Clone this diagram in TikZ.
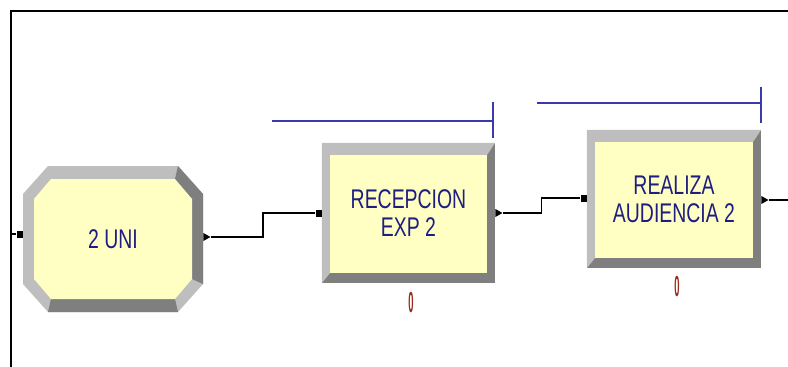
\documentclass[tikz,border=0pt]{standalone}
\usepackage{fontspec}
\usepackage{graphicx}
\usetikzlibrary{positioning, calc, backgrounds, shapes.geometric}
\newfontfamily\arenafont{Liberation Sans}[FakeStretch=0.72]
\definecolor{arenablue}{HTML}{1E1E82}
\definecolor{queueblue}{HTML}{3A3AA8}
\definecolor{bevlight}{HTML}{BEBEBE}
\definecolor{bevdark}{HTML}{7F7F7F}
\definecolor{boxyellow}{HTML}{FFFFC4}
\definecolor{countred}{HTML}{9A2A1A}

% bevelled module frame behind a named node
\newcommand{\bevelbox}[1]{%
  \begin{scope}[on background layer]
    \fill[bevdark] (#1.north west) rectangle (#1.south east);
    \fill[bevlight] (#1.north west) -- (#1.north east) -- ($(#1.north east)+(-8,12)$)
      -- ($(#1.south west)+(8,-10)$) -- (#1.south west) -- cycle;
    \fill[boxyellow] ($(#1.north west)+(8,12)$) rectangle ($(#1.south east)+(-8,-10)$);
  \end{scope}}

\begin{document}
\begin{tikzpicture}[
    x=1pt, y=-1pt,
    modbox/.style={minimum width=174pt, minimum height=140pt, inner sep=0pt, align=center, font=\arenafont\fontsize{27}{28}\selectfont, text=arenablue},
    inport/.style={fill=black, minimum width=6pt, minimum height=7pt, inner sep=0pt},
    outport/.style={isosceles triangle, isosceles triangle stretches, fill=black, minimum width=8pt, minimum height=7pt, inner sep=0pt},
    conn/.style={line width=1.4pt},
    queue/.style={queueblue, line width=1.3pt},
    countlbl/.style={font=\arenafont\bfseries\fontsize{29}{29}\selectfont, text=countred, inner sep=0pt}
  ]
  \useasboundingbox (0,0) rectangle (788,367);

  % Frame
  \coordinate (frameleft) at (11,0);
  \coordinate (frameright) at (788,0);
  \draw[line width=2pt] (788,11) -- (11,11) -- (11,367);

  % Octagon module
  \node[modbox, minimum width=180pt, minimum height=146pt] (uni) at (113,239) {2 UNI};
  \begin{scope}[on background layer, shift={(uni.center)}]
    \fill[bevlight] (-65,-73) -- (65,-73) -- (90,-45) -- (90,45) -- (65,73) -- (-65,73) -- (-90,45) -- (-90,-45) -- cycle;
    \fill[bevdark] (65,-73) -- (90,-45) -- (90,45) -- (79,40) -- (79,-40) -- (62,-60) -- cycle;
    \fill[bevdark] (65,73) -- (-65,73) -- (-62,60) -- (62,60) -- cycle;
    \fill[boxyellow] (-62,-60) -- (62,-60) -- (79,-40) -- (79,40) -- (62,60) -- (-62,60) -- (-79,40) -- (-79,-40) -- cycle;
  \end{scope}

  % Process modules
  \node[modbox, minimum width=173pt] (recep) at (408.5,213) {RECEPCION\\EXP 2};
  \bevelbox{recep}
  \node[modbox, minimum height=138pt] (realiza) at (674,199) {REALIZA\\AUDIENCIA 2};
  \bevelbox{realiza}

  % Ports
  \node[inport, anchor=east] (uniin) at ([yshift=5pt]uni.west) {};
  \node[outport, anchor=west] (uniout) at ([yshift=2pt]uni.east) {};
  \node[inport, anchor=east] (recepin) at (recep.west) {};
  \node[outport, anchor=west] (recepout) at (recep.east) {};
  \node[inport, anchor=east] (realizain) at ([yshift=1pt]realiza.west) {};
  \node[outport, anchor=west] (realizaout) at ([yshift=-1pt]realiza.east) {};

  % Connectors
  \draw[conn] (frameleft |- uniin) -- (uniin.west);
  \draw[conn] (uniout.east) -| ($(uniout.east)!0.5!(recepin.west)$) |- (recepin.west);
  \draw[conn] (recepout.east) -| ($(recepout.east)!0.5!(realizain.west)$) |- (realizain.west);
  \draw[conn] (realizaout.east) -- (frameright |- realizaout);

  % Queues
  \draw[queue] (272,121) -- (493,121);
  \draw[queue] (493,102) -- (493,138);
  \draw[queue] (537,103) -- (761,103);
  \draw[queue] (761,87) -- (761,123);

  % Counters
  \node[countlbl] (recepcnt) at (411,303) {\scalebox{0.45}[1]{0}};
  \node[countlbl] (realizacnt) at (677,287) {\scalebox{0.45}[1]{0}};
\end{tikzpicture}
\end{document}
